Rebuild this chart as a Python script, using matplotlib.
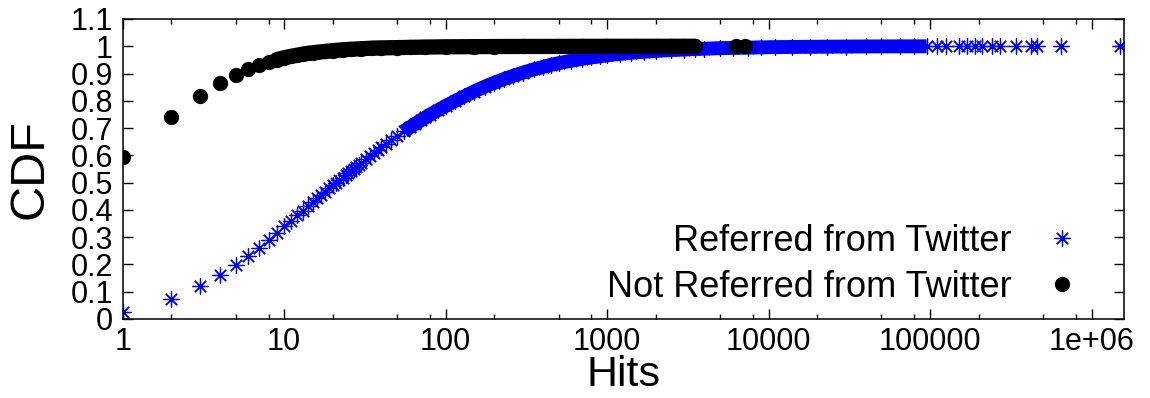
import numpy as np
import matplotlib
matplotlib.use('Agg')
import matplotlib.pyplot as plt
from matplotlib.ticker import LogLocator, NullFormatter, FixedLocator

plt.rcParams['font.family'] = ['Liberation Sans', 'DejaVu Sans']

# CDF of hits
ref_hits = [1, 2, 3, 4, 5, 6, 7, 8, 9, 10, 11, 12, 13, 14, 15, 16, 17, 18, 19, 20,
            21, 22, 23, 24, 25, 26, 27, 28, 29, 30, 32, 34, 36, 38, 40, 43, 46, 50,
            55, 60, 65, 70, 75, 80, 90, 100, 115, 130, 150, 175, 200, 230, 260, 300,
            350, 400, 450, 500, 600, 700, 800, 900, 1000, 1200, 1400, 1700, 2000,
            2500, 3000, 3500, 4000, 5000, 6000, 7500, 9000, 11000, 14000, 18000,
            23000, 30000, 40000, 50000, 65000, 80000, 95000, 110000, 125000, 150000,
            170000, 190000, 210000, 240000, 270000, 340000, 420000, 460000, 650000,
            1500000]
ref_cdf = [0.025, 0.074, 0.120, 0.160, 0.197, 0.232, 0.262, 0.290, 0.316, 0.340,
           0.361, 0.380, 0.397, 0.413, 0.428, 0.442, 0.455, 0.467, 0.479, 0.490,
           0.500, 0.509, 0.518, 0.527, 0.535, 0.543, 0.551, 0.558, 0.565, 0.572,
           0.585, 0.597, 0.608, 0.619, 0.629, 0.643, 0.656, 0.671, 0.688, 0.703,
           0.716, 0.728, 0.739, 0.749, 0.766, 0.781, 0.800, 0.816, 0.834, 0.852,
           0.866, 0.880, 0.891, 0.903, 0.915, 0.924, 0.932, 0.938, 0.947, 0.954,
           0.959, 0.963, 0.967, 0.972, 0.976, 0.980, 0.983, 0.986, 0.988, 0.990,
           0.991, 0.993, 0.994, 0.995, 0.996, 0.997, 0.9975, 0.998, 0.9985, 0.999,
           0.9993, 0.9995, 0.9997, 0.9998, 0.9998, 0.9999, 0.9999, 1.0,
           1.0, 1.0, 1.0, 1.0, 1.0, 1.0, 1.0, 1.0, 1.0, 1.0]

not_hits = [1, 2, 3, 4, 5, 6, 7, 8, 9, 10, 11, 12, 13, 14, 15, 16, 18, 20, 23, 26,
            30, 35, 40, 50, 60, 75, 100, 150, 200, 300, 500, 700, 1000, 1500, 2000,
            2500, 3000, 3500, 6300, 7100]
not_cdf = [0.595, 0.740, 0.818, 0.866, 0.895, 0.915, 0.930, 0.942, 0.951, 0.958,
           0.963, 0.967, 0.971, 0.974, 0.976, 0.978, 0.981, 0.984, 0.987, 0.989,
           0.991, 0.993, 0.994, 0.995, 0.996, 0.997, 0.998, 0.9985, 0.999, 0.9993,
           0.9995, 0.9997, 0.9998, 0.9999, 0.9999, 1.0, 1.0, 1.0, 1.0, 1.0]

xtick_vals = [1, 10, 100, 1000, 10000, 100000, 1000000]
xtick_labels = ['1', '10', '100', '1000', '10000', '100000', '1e+06']
ytick_vals = [0, 0.1, 0.2, 0.3, 0.4, 0.5, 0.6, 0.7, 0.8, 0.9, 1.0, 1.1]
ytick_labels = ['0', '0.1', '0.2', '0.3', '0.4', '0.5', '0.6', '0.7', '0.8', '0.9', '1', '1.1']

ref_hits = np.array(ref_hits)
ref_cdf = np.array(ref_cdf)
not_hits = np.array(not_hits)
not_cdf = np.array(not_cdf)

fig = plt.figure(figsize=(11.5, 3.98), dpi=100)
ax = fig.add_axes([0.1067, 0.1985, 0.8704, 0.7538])

blue = '#0000ff'
star = (8, 2, 0)

# dense parts of the curves, where the markers overlap into a solid band
band = (ref_hits >= 55) & (ref_hits <= 95000)
ax.plot(ref_hits[band], ref_cdf[band], color=blue, lw=10, solid_capstyle='butt',
        label='_nolegend_')
ax.plot(ref_hits, ref_cdf, ls='none', marker=star, ms=11.5, mew=0.9,
        color=blue, label='Referred from Twitter')

band2 = (not_hits >= 9) & (not_hits <= 3500)
ax.plot(not_hits[band2], not_cdf[band2], color='black', lw=11,
        solid_capstyle='round', label='_nolegend_')
ax.plot(not_hits, not_cdf, ls='none', marker='o', ms=11, mew=0,
        color='black', label='Not Referred from Twitter')

ax.set_xscale('log')
ax.set_xlim(1, 1.58e6)
ax.set_ylim(0, 1.1)
ax.xaxis.set_major_locator(FixedLocator(xtick_vals))
ax.set_xticklabels(xtick_labels)
ax.xaxis.set_minor_locator(LogLocator(base=10, subs=[2, 5, 8], numticks=20))
ax.xaxis.set_minor_formatter(NullFormatter())
ax.set_yticks(ytick_vals)
ax.set_yticklabels(ytick_labels)

ax.tick_params(which='both', direction='in', top=True, right=True, width=1,
               labelsize=22, colors='black')
ax.tick_params(which='major', length=7.5)
ax.tick_params(which='minor', length=3.8)
ax.tick_params(axis='y', pad=7)
ax.tick_params(axis='x', pad=6)
for s in ax.spines.values():
    s.set_linewidth(1.1)

ax.set_xlabel('Hits', fontsize=31, va='baseline')
ax.xaxis.set_label_coords(0.5, -0.225)
ax.set_ylabel('CDF', fontsize=35, labelpad=13)

ax.legend(loc='center right', bbox_to_anchor=(0.9563, 0.183), frameon=False,
          fontsize=26, markerfirst=False, numpoints=1, handlelength=1.0,
          handletextpad=0.9, labelspacing=0.3, borderpad=0, borderaxespad=0)

fig.savefig('out.png', dpi=100)
